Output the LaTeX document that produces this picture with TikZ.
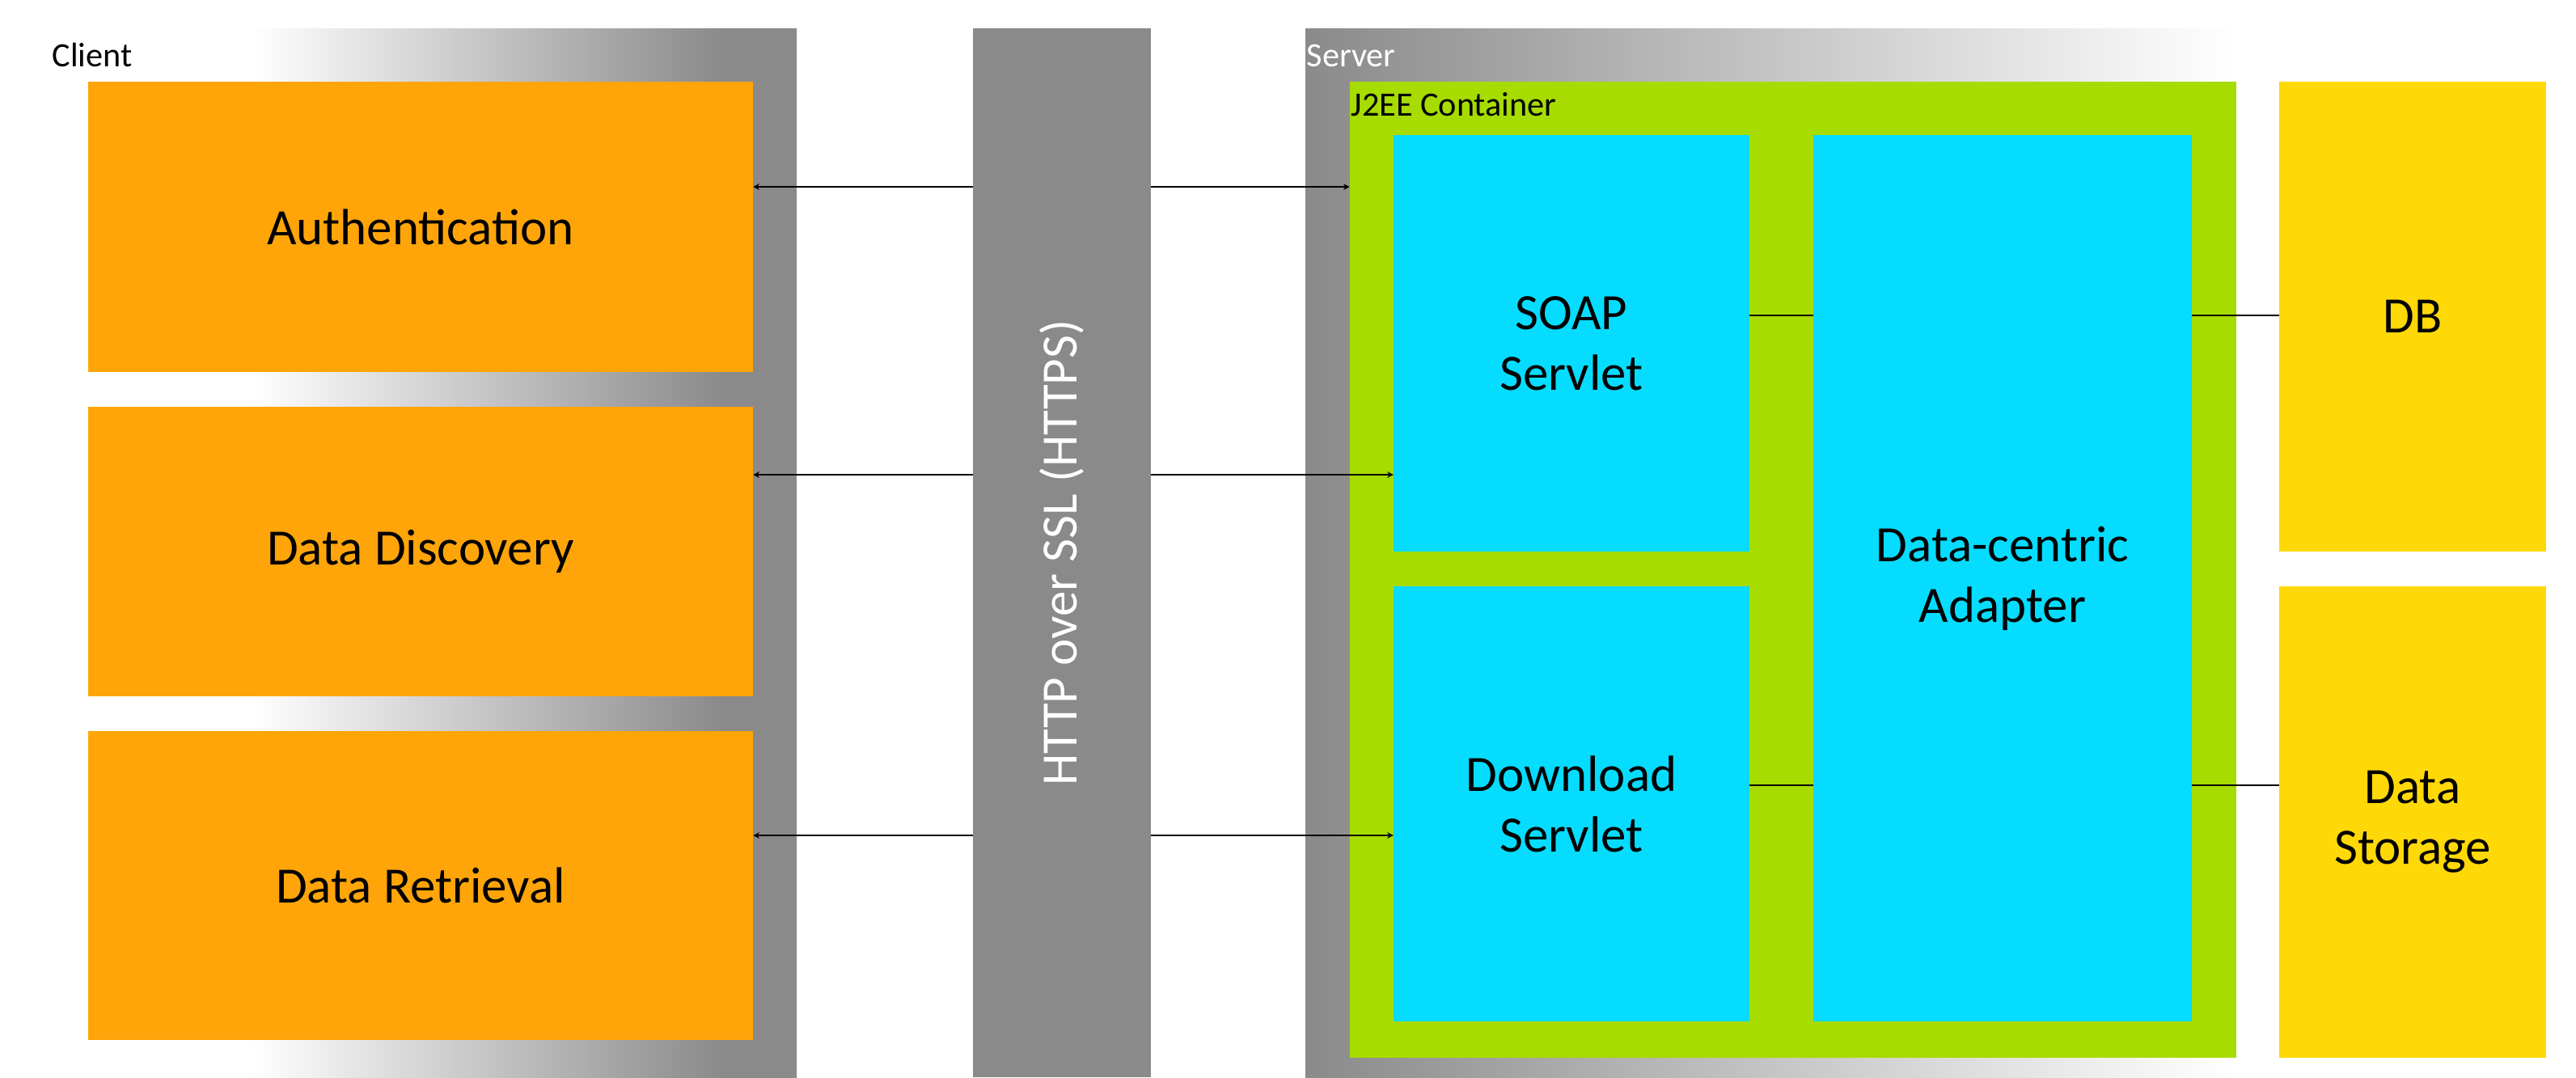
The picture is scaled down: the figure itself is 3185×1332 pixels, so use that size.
\documentclass[tikz,border=0pt]{standalone}
\usepackage{fontspec}
\setmainfont{Carlito}
\usetikzlibrary{arrows.meta}
\definecolor{panelgray}{HTML}{8A8A8A}
\definecolor{orangebox}{HTML}{FFA50A}
\definecolor{greenbox}{HTML}{A6DC00}
\definecolor{cyanbox}{HTML}{06DCFF}
\definecolor{yellowbox}{HTML}{FFD808}
\pgfdeclarehorizontalshading{clientshade}{100bp}{color(0bp)=(white); color(25bp)=(white); color(68.2bp)=(panelgray); color(100bp)=(panelgray)}
\begin{document}
\begin{tikzpicture}[x=0.01cm,y=-0.01cm,
  blk/.style={inner sep=0pt, outer sep=0pt, align=center, font=\fontsize{17.9}{21.3}\selectfont},
  lbl/.style={inner sep=0pt, anchor=base west, font=\fontsize{12}{14}\selectfont},
  conn/.style={line width=0.8pt, black},
  biarrow/.style={conn, {Stealth[length=2.2pt,width=2.2pt]}-{Stealth[length=2.2pt,width=2.2pt]}}]
\useasboundingbox (0,0) rectangle (3185,1332);
% client panel
\shade[shading=clientshade] (312,35) rectangle (985,1332);
% server panel
\shade[left color=panelgray,right color=white] (1614,35) rectangle (2760,1332);
% client boxes
\node[blk, fill=orangebox, minimum width=8.22cm, minimum height=3.59cm] (auth) at (520,280.5) {Authentication};
\node[blk, fill=orangebox, minimum width=8.22cm, minimum height=3.58cm] (disc) at (520,682) {Data Discovery};
\node[blk, fill=orangebox, minimum width=8.22cm, minimum height=3.82cm] (retr) at (520,1095) {Data Retrieval};
% server boxes
\node[blk, fill=greenbox, minimum width=10.96cm, minimum height=12.07cm] (container) at (2217,704.5) {};
\node[blk, fill=cyanbox, minimum width=4.40cm, minimum height=5.15cm] (soap) at (1943,424.5) {SOAP\\Servlet};
\node[blk, fill=cyanbox, minimum width=4.40cm, minimum height=5.38cm] (down) at (1943,994) {Download\\Servlet};
\node[blk, fill=cyanbox, minimum width=4.68cm, minimum height=10.96cm] (adapter) at (2476,715) {Data-centric\\Adapter};
\node[blk, fill=yellowbox, minimum width=3.30cm, minimum height=5.81cm] (db) at (2983,391.5) {DB};
\node[blk, fill=yellowbox, minimum width=3.30cm, minimum height=5.83cm] (storage) at (2983,1016.5) {Data\\Storage};
% labels
\node[lbl] (clientlbl) at (64,82) {Client};
\node[lbl, text=white] (serverlbl) at (1615,82) {Server};
\node[lbl] (containerlbl) at (1670,143) {J2EE Container};
% connectors
\coordinate (r1) at (0,231);
\coordinate (r2) at (0,587);
\coordinate (r3) at (0,1033);
\coordinate (a1) at (0,390);
\coordinate (a2) at (0,971);
\draw[biarrow] (auth.east |- r1) -- (container.west |- r1);
\draw[biarrow] (disc.east |- r2) -- (soap.west |- r2);
\draw[biarrow] (retr.east |- r3) -- (down.west |- r3);
\draw[conn] (soap.east |- a1) -- (adapter.west |- a1);
\draw[conn] (adapter.east |- a1) -- (db.west |- a1);
\draw[conn] (down.east |- a2) -- (adapter.west |- a2);
\draw[conn] (adapter.east |- a2) -- (storage.west |- a2);
% HTTP bar
\node[blk, fill=panelgray, text=white, rotate=90, minimum width=12.97cm, minimum height=2.20cm] (http) at (1313,683.5) {HTTP over SSL (HTTPS)};
\end{tikzpicture}
\end{document}
